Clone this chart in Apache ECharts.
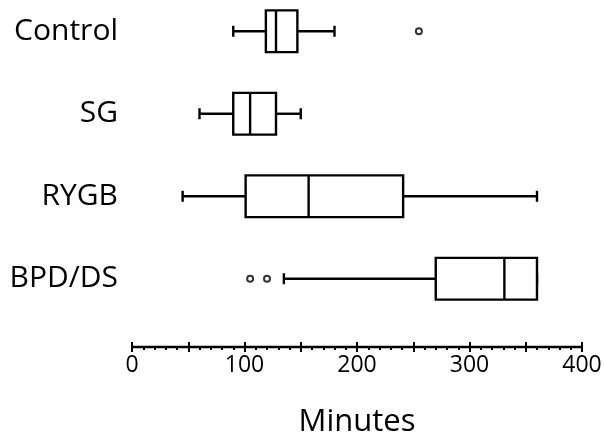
<!DOCTYPE html>
<html>
<head>
<meta charset="utf-8">
<script src="https://cdn.jsdelivr.net/npm/echarts@6/dist/echarts.min.js"></script>
<style>
  html, body { margin: 0; padding: 0; background: #fff; }
  #chart { width: 605px; height: 436px; }
</style>
</head>
<body>
<div id="chart"></div>
<script>
  // groups, top to bottom
  const groups = ['Control', 'SG', 'RYGB', 'BPD/DS'];
  // [min, Q1, median, Q3, max] in minutes
  const boxes = [
    [90, 119, 128, 147, 180],
    [60, 90, 105, 128, 150],
    [45, 101, 157, 241, 360],
    [135, 270, 331, 360, 360]
  ];
  // outliers: [minutes, group]
  const outliers = [
    [255, 'Control'],
    [105, 'BPD/DS'],
    [120, 'BPD/DS']
  ];
  const xTicks = [0, 100, 200, 300, 400];

  const font = 'Open Sans';
  const boxData = boxes.map((b, i) => [i].concat(b));

  function renderBox(params, api) {
    const idx = api.value(0);
    const band = api.size([0, 1])[1];
    const h = band * 0.505;
    const cap = 11;
    const pMin = api.coord([api.value(1), idx]);
    const pQ1 = api.coord([api.value(2), idx]);
    const pMed = api.coord([api.value(3), idx]);
    const pQ3 = api.coord([api.value(4), idx]);
    const pMax = api.coord([api.value(5), idx]);
    const y = pQ1[1];
    const st = { stroke: '#000', lineWidth: 2.4, fill: null };
    return {
      type: 'group',
      children: [
        { type: 'line', shape: { x1: pMin[0], y1: y, x2: pQ1[0], y2: y }, style: st },
        { type: 'line', shape: { x1: pQ3[0], y1: y, x2: pMax[0], y2: y }, style: st },
        { type: 'line', shape: { x1: pMin[0], y1: y - cap / 2, x2: pMin[0], y2: y + cap / 2 }, style: st },
        { type: 'line', shape: { x1: pMax[0], y1: y - cap / 2, x2: pMax[0], y2: y + cap / 2 }, style: st },
        { type: 'rect', shape: { x: pQ1[0], y: y - h / 2, width: pQ3[0] - pQ1[0], height: h }, style: { stroke: '#000', lineWidth: 2.4, fill: '#fff' } },
        { type: 'line', shape: { x1: pMed[0], y1: y - h / 2, x2: pMed[0], y2: y + h / 2 }, style: st }
      ]
    };
  }

  const chart = echarts.init(document.getElementById('chart'));
  const xBase = {
    type: 'value',
    min: 0,
    max: 400,
    interval: 50,
    position: 'bottom',
    offset: 27,
    splitLine: { show: false }
  };
  chart.setOption({
    animation: false,
    grid: { left: 132, right: 23, top: -10, height: 330, outerBoundsMode: 'none', containLabel: false },
    xAxis: [
      Object.assign({}, xBase, {
        name: 'Minutes',
        nameLocation: 'middle',
        nameGap: 60,
        nameTextStyle: { fontFamily: font, fontSize: 31, color: '#000' },
        axisLine: { show: true, lineStyle: { color: '#000', width: 2.4 } },
        axisTick: { show: true, length: 5, lineStyle: { color: '#000', width: 2 } },
        minorTick: { show: true, splitNumber: 5, length: 3, lineStyle: { color: '#000', width: 2 } },
        axisLabel: {
          fontFamily: font, fontSize: 23, color: '#000', margin: 7,
          formatter: v => xTicks.indexOf(v) >= 0 ? String(v) : ''
        }
      }),
      Object.assign({}, xBase, {
        axisLine: { show: false },
        axisTick: { show: true, inside: true, length: 5, lineStyle: { color: '#000', width: 2 } },
        axisLabel: { show: false }
      })
    ],
    yAxis: {
      type: 'category',
      data: groups,
      inverse: true,
      axisLine: { show: false },
      axisTick: { show: false },
      axisLabel: { fontFamily: font, fontSize: 30, color: '#000', margin: 14 }
    },
    series: [
      {
        type: 'custom',
        renderItem: renderBox,
        encode: { x: [1, 2, 3, 4, 5], y: 0 },
        data: boxData
      },
      {
        type: 'scatter',
        data: outliers,
        symbol: 'circle',
        symbolSize: 6,
        itemStyle: { color: '#fff', borderColor: '#000', borderWidth: 2 }
      }
    ]
  });
</script>
</body>
</html>
